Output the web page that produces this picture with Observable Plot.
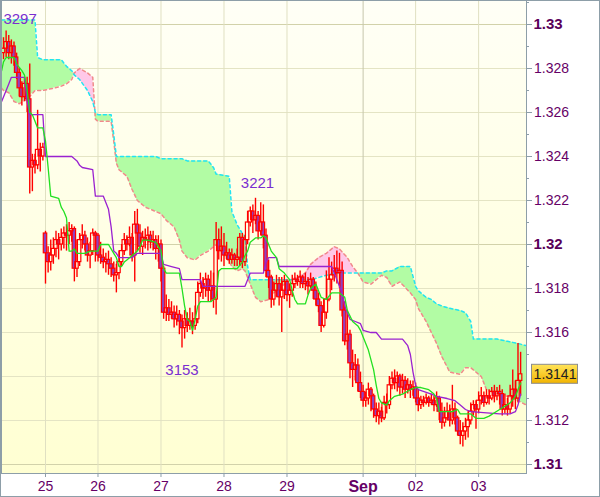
<!DOCTYPE html>
<html><head><meta charset="utf-8">
<script src="https://cdn.jsdelivr.net/npm/d3@7"></script>
<script src="https://cdn.jsdelivr.net/npm/@observablehq/plot@0.6"></script>
<style>
html,body{margin:0;padding:0;background:#fff;}
#chart svg{display:block;}
</style></head><body><div id="chart"></div>
<script>
// ---- hourly candles (bar index 0..197) ----
const openP = [
1.3287,1.3289,1.3292,1.3287,1.3290,1.3285,1.3278,1.3271,1.3267,1.3273,
1.3266,1.3235,1.3238,1.3236,1.3243,1.3240,1.3205,1.3196,1.3192,1.3195,
1.3198,1.3202,1.3200,1.3203,1.3205,1.3204,1.3206,1.3207,1.3189,1.3192,
1.3202,1.3204,1.3200,1.3195,1.3197,1.3205,1.3204,1.3195,1.3194,1.3192,
1.3193,1.3191,1.3189,1.3186,1.3187,1.3192,1.3197,1.3202,1.3200,1.3203,
1.3195,1.3209,1.3205,1.3199,1.3203,1.3202,1.3204,1.3201,1.3202,1.3198,
1.3200,1.3189,1.3169,1.3171,1.3168,1.3169,1.3166,1.3168,1.3165,1.3162,
1.3166,1.3163,1.3165,1.3163,1.3166,1.3178,1.3182,1.3180,1.3184,1.3179,
1.3181,1.3175,1.3202,1.3197,1.3199,1.3195,1.3196,1.3193,1.3195,1.3193,
1.3194,1.3203,1.3192,1.3202,1.3210,1.3215,1.3211,1.3213,1.3206,1.3210,
1.3204,1.3188,1.3185,1.3175,1.3179,1.3182,1.3176,1.3179,1.3183,1.3177,
1.3179,1.3182,1.3184,1.3183,1.3185,1.3182,1.3183,1.3181,1.3184,1.3179,
1.3175,1.3172,1.3163,1.3169,1.3175,1.3184,1.3186,1.3189,1.3187,1.3188,
1.3170,1.3156,1.3159,1.3146,1.3143,1.3145,1.3137,1.3133,1.3129,1.3130,
1.3134,1.3131,1.3125,1.3122,1.3124,1.3121,1.3128,1.3127,1.3136,1.3139,
1.3137,1.3140,1.3135,1.3138,1.3134,1.3136,1.3134,1.3135,1.3130,1.3127,
1.3129,1.3128,1.3130,1.3128,1.3129,1.3127,1.3130,1.3124,1.3119,1.3121,
1.3124,1.3120,1.3125,1.3121,1.3115,1.3113,1.3115,1.3117,1.3120,1.3124,
1.3127,1.3125,1.3129,1.3131,1.3128,1.3131,1.3130,1.3133,1.3131,1.3133,
1.3132,1.3125,1.3127,1.3125,1.3131,1.3134,1.3130,1.3138];
const highP = [
1.3294,1.3297,1.3295,1.3293,1.3292,1.3287,1.3280,1.3274,1.3276,1.3276,
1.3282,1.3241,1.3241,1.3261,1.3246,1.3246,1.3206,1.3199,1.3202,1.3203,
1.3206,1.3205,1.3207,1.3208,1.3209,1.3210,1.3209,1.3208,1.3202,1.3205,
1.3209,1.3206,1.3203,1.3201,1.3207,1.3206,1.3205,1.3201,1.3198,1.3196,
1.3197,1.3194,1.3192,1.3191,1.3197,1.3200,1.3205,1.3204,1.3208,1.3205,
1.3215,1.3216,1.3209,1.3206,1.3207,1.3208,1.3206,1.3206,1.3204,1.3204,
1.3202,1.3190,1.3177,1.3175,1.3174,1.3172,1.3172,1.3170,1.3168,1.3170,
1.3169,1.3171,1.3169,1.3172,1.3183,1.3187,1.3185,1.3187,1.3186,1.3188,
1.3187,1.3210,1.3207,1.3208,1.3205,1.3201,1.3198,1.3198,1.3196,1.3198,
1.3205,1.3205,1.3204,1.3215,1.3217,1.3218,1.3221,1.3215,1.3219,1.3218,
1.3207,1.3193,1.3186,1.3183,1.3186,1.3185,1.3185,1.3186,1.3184,1.3182,
1.3186,1.3187,1.3186,1.3188,1.3186,1.3187,1.3185,1.3187,1.3185,1.3183,
1.3178,1.3174,1.3175,1.3188,1.3194,1.3192,1.3195,1.3197,1.3196,1.3192,
1.3174,1.3170,1.3161,1.3152,1.3150,1.3148,1.3142,1.3136,1.3133,1.3137,
1.3135,1.3132,1.3128,1.3128,1.3126,1.3131,1.3132,1.3140,1.3142,1.3143,
1.3142,1.3141,1.3141,1.3140,1.3139,1.3138,1.3138,1.3137,1.3134,1.3131,
1.3131,1.3132,1.3131,1.3132,1.3131,1.3133,1.3131,1.3128,1.3126,1.3128,
1.3127,1.3136,1.3128,1.3122,1.3120,1.3119,1.3121,1.3124,1.3128,1.3129,
1.3129,1.3133,1.3135,1.3133,1.3134,1.3134,1.3135,1.3136,1.3135,1.3136,
1.3134,1.3132,1.3130,1.3136,1.3143,1.3138,1.3155,1.3151];
const lowP = [
1.3284,1.3285,1.3284,1.3282,1.3281,1.3275,1.3267,1.3263,1.3265,1.3260,
1.3223,1.3224,1.3232,1.3234,1.3233,1.3238,1.3182,1.3187,1.3188,1.3191,
1.3194,1.3193,1.3197,1.3198,1.3197,1.3200,1.3201,1.3183,1.3185,1.3190,
1.3198,1.3197,1.3192,1.3189,1.3195,1.3192,1.3192,1.3191,1.3189,1.3187,
1.3186,1.3185,1.3183,1.3178,1.3184,1.3190,1.3195,1.3197,1.3199,1.3192,
1.3183,1.3197,1.3196,1.3195,1.3198,1.3197,1.3198,1.3197,1.3193,1.3192,
1.3183,1.3166,1.3165,1.3165,1.3166,1.3162,1.3163,1.3159,1.3153,1.3157,
1.3160,1.3161,1.3159,1.3161,1.3164,1.3176,1.3175,1.3176,1.3174,1.3174,
1.3171,1.3168,1.3193,1.3192,1.3190,1.3193,1.3191,1.3191,1.3190,1.3190,
1.3190,1.3189,1.3190,1.3200,1.3208,1.3205,1.3209,1.3202,1.3204,1.3198,
1.3185,1.3180,1.3171,1.3172,1.3176,1.3172,1.3160,1.3175,1.3174,1.3171,
1.3176,1.3180,1.3181,1.3180,1.3180,1.3179,1.3177,1.3180,1.3175,1.3172,
1.3169,1.3160,1.3162,1.3166,1.3174,1.3179,1.3183,1.3182,1.3180,1.3167,
1.3154,1.3152,1.3139,1.3135,1.3138,1.3133,1.3130,1.3126,1.3126,1.3127,
1.3124,1.3121,1.3119,1.3118,1.3119,1.3120,1.3123,1.3125,1.3134,1.3134,
1.3133,1.3131,1.3132,1.3130,1.3132,1.3130,1.3131,1.3128,1.3124,1.3125,
1.3126,1.3127,1.3126,1.3127,1.3124,1.3126,1.3120,1.3116,1.3117,1.3120,
1.3117,1.3118,1.3118,1.3113,1.3109,1.3108,1.3111,1.3112,1.3118,1.3122,
1.3116,1.3123,1.3127,1.3126,1.3127,1.3127,1.3129,1.3128,1.3129,1.3127,
1.3122,1.3123,1.3122,1.3123,1.3126,1.3125,1.3128,1.3131];
const closeP = [
1.3289,1.3292,1.3287,1.3290,1.3285,1.3278,1.3271,1.3267,1.3273,1.3266,
1.3235,1.3238,1.3236,1.3243,1.3240,1.3244,1.3196,1.3192,1.3195,1.3198,
1.3202,1.3200,1.3203,1.3205,1.3204,1.3206,1.3207,1.3189,1.3192,1.3202,
1.3204,1.3200,1.3195,1.3197,1.3205,1.3204,1.3195,1.3194,1.3192,1.3193,
1.3191,1.3189,1.3186,1.3187,1.3192,1.3197,1.3202,1.3200,1.3203,1.3195,
1.3209,1.3205,1.3199,1.3203,1.3202,1.3204,1.3201,1.3202,1.3198,1.3200,
1.3189,1.3169,1.3171,1.3168,1.3169,1.3166,1.3168,1.3165,1.3162,1.3166,
1.3163,1.3165,1.3163,1.3166,1.3178,1.3182,1.3180,1.3184,1.3179,1.3181,
1.3175,1.3202,1.3197,1.3199,1.3195,1.3196,1.3193,1.3195,1.3193,1.3194,
1.3203,1.3192,1.3202,1.3210,1.3215,1.3211,1.3213,1.3206,1.3210,1.3204,
1.3188,1.3185,1.3175,1.3179,1.3182,1.3176,1.3179,1.3183,1.3177,1.3179,
1.3182,1.3184,1.3183,1.3185,1.3182,1.3183,1.3181,1.3184,1.3179,1.3175,
1.3172,1.3163,1.3169,1.3175,1.3184,1.3186,1.3189,1.3187,1.3188,1.3170,
1.3156,1.3159,1.3146,1.3143,1.3145,1.3137,1.3133,1.3129,1.3130,1.3134,
1.3131,1.3125,1.3122,1.3124,1.3121,1.3128,1.3127,1.3136,1.3139,1.3137,
1.3140,1.3135,1.3138,1.3134,1.3136,1.3134,1.3135,1.3130,1.3127,1.3129,
1.3128,1.3130,1.3128,1.3129,1.3127,1.3130,1.3124,1.3119,1.3121,1.3124,
1.3120,1.3125,1.3121,1.3115,1.3113,1.3115,1.3117,1.3120,1.3124,1.3127,
1.3125,1.3129,1.3131,1.3128,1.3131,1.3130,1.3133,1.3131,1.3133,1.3132,
1.3125,1.3127,1.3125,1.3131,1.3134,1.3130,1.3138,1.3141];

// ---- Ichimoku lines (breakpoints: bar index, price) ----
const tenkanIdx = [-0.7,0,1,4,5,7,8,9,10,11,12,13,15,16,17,18,21,22,23,24,25,26,27,28,31,33,36,37,40,41,42,43,44,45,46,47,49,51,52,53,55,58,59,60,61,62,67,68,69,70,71,72,73,74,75,79,81,82,83,89,91,92,93,94,96,98,99,100,101,102,104,105,107,109,110,111,112,115,116,117,119,120,121,123,125,128,130,131,133,135,136,137,139,141,142,143,144,146,147,149,152,155,157,159,162,164,165,166,171,173,174,178,180,183,185,189,193,195,196,197];
const tenkanVal = [1.3279,1.3283,1.3285,1.3285,1.3282,1.3279,1.3277,1.3270,1.3260,1.3259,1.3256,1.3253,1.3253,1.3247,1.3235,1.3222,1.3221,1.3217,1.3215,1.3212,1.3197,1.3197,1.3198,1.3196,1.3196,1.3197,1.3197,1.3200,1.3200,1.3198,1.3196,1.3194,1.3190,1.3190,1.3192,1.3193,1.3195,1.3197,1.3199,1.3202,1.3202,1.3201,1.3199,1.3197,1.3189,1.3187,1.3187,1.3180,1.3172,1.3166,1.3165,1.3161,1.3166,1.3172,1.3174,1.3174,1.3176,1.3188,1.3189,1.3189,1.3192,1.3195,1.3197,1.3201,1.3203,1.3203,1.3204,1.3203,1.3200,1.3197,1.3194,1.3189,1.3187,1.3184,1.3179,1.3175,1.3173,1.3173,1.3177,1.3180,1.3182,1.3179,1.3176,1.3175,1.3178,1.3178,1.3176,1.3170,1.3165,1.3163,1.3161,1.3158,1.3152,1.3143,1.3136,1.3130,1.3128,1.3127,1.3129,1.3131,1.3132,1.3134,1.3135,1.3135,1.3134,1.3132,1.3130,1.3124,1.3124,1.3125,1.3123,1.3123,1.3121,1.3121,1.3122,1.3125,1.3128,1.3131,1.3134,1.3137];
const kijunIdx = [-0.7,1,2,3,8,9,10,15,16,26,28,29,30,34,35,38,40,41,42,43,44,49,51,60,61,64,67,68,75,76,92,93,94,99,100,101,104,105,125,126,129,130,131,132,134,136,137,140,142,144,152,154,155,156,157,158,163,165,169,172,174,176,178,189,193,195,196,197];
const kijunVal = [1.3265,1.3270,1.3273,1.3276,1.3276,1.3265,1.3259,1.3259,1.3240,1.3240,1.3238,1.3236,1.3235,1.3234,1.3222,1.3222,1.3216,1.3208,1.3197,1.3196,1.3194,1.3194,1.3196,1.3196,1.3191,1.3190,1.3189,1.3184,1.3184,1.3181,1.3181,1.3184,1.3187,1.3187,1.3192,1.3194,1.3194,1.3190,1.3190,1.3187,1.3178,1.3172,1.3169,1.3166,1.3165,1.3164,1.3161,1.3160,1.3160,1.3157,1.3157,1.3154,1.3150,1.3142,1.3136,1.3134,1.3132,1.3131,1.3130,1.3129,1.3127,1.3125,1.3124,1.3123,1.3123,1.3124,1.3127,1.3132];
const cloudIdx = [-0.7,0,2,4,6,9,12,13,15,19,22,24,26,27,29,32,34,35,36,38,41,42,43,44,47,49,51,54,58,60,62,65,67,68,70,73,75,78,80,81,86,87,89,91,92,93,94,96,98,101,103,106,109,112,115,117,120,123,126,128,131,133,135,137,140,144,146,148,151,155,157,158,161,163,165,167,170,174,176,178,179,182,184,188,192,196,199.2];
const spanA = [1.3302,1.3302,1.3302,1.3302,1.3302,1.3302,1.3302,1.3285,1.3284,1.3284,1.3284,1.3281,1.3279,1.3277,1.3275,1.3270,1.3265,1.3260,1.3259,1.3259,1.3259,1.3250,1.3240,1.3240,1.3240,1.3240,1.3240,1.3240,1.3240,1.3239,1.3239,1.3239,1.3239,1.3239,1.3238,1.3238,1.3238,1.3238,1.3235,1.3232,1.3231,1.3215,1.3209,1.3205,1.3204,1.3190,1.3184,1.3184,1.3184,1.3184,1.3184,1.3184,1.3184,1.3184,1.3184,1.3184,1.3185,1.3186,1.3187,1.3187,1.3187,1.3187,1.3187,1.3187,1.3187,1.3187,1.3188,1.3188,1.3190,1.3190,1.3181,1.3179,1.3176,1.3175,1.3173,1.3172,1.3171,1.3170,1.3169,1.3165,1.3157,1.3157,1.3157,1.3157,1.3156,1.3155,1.3154];
const spanB = [1.3271,1.3270,1.3269,1.3265,1.3264,1.3266,1.3270,1.3270,1.3270,1.3271,1.3272,1.3273,1.3275,1.3278,1.3280,1.3278,1.3276,1.3257,1.3256,1.3256,1.3256,1.3247,1.3237,1.3234,1.3231,1.3225,1.3220,1.3217,1.3215,1.3214,1.3211,1.3208,1.3202,1.3197,1.3194,1.3193,1.3195,1.3197,1.3199,1.3200,1.3192,1.3190,1.3188,1.3189,1.3188,1.3185,1.3182,1.3176,1.3174,1.3175,1.3178,1.3181,1.3184,1.3185,1.3187,1.3191,1.3194,1.3196,1.3199,1.3198,1.3194,1.3190,1.3187,1.3183,1.3182,1.3186,1.3185,1.3181,1.3183,1.3178,1.3175,1.3171,1.3165,1.3160,1.3155,1.3149,1.3142,1.3141,1.3144,1.3144,1.3143,1.3140,1.3134,1.3132,1.3131,1.3129,1.3127];

// ---- axes ----
const dayTickIdx = [16,36,60,84,108,137,157,181];
const dayTickLabel = ["25","26","27","28","29","Sep","02","03"];
const gridTicks = [1.328,1.326,1.324,1.322,1.318,1.316,1.314,1.312];
const priceTicks = [1.328,1.326,1.324,1.322,1.318,1.316,1.312];   // 1.314 is hidden under the last-price box
const priceTickLabels = ["1.328","1.326","1.324","1.322","1.318","1.316","1.312"];
const boldTicks = [1.33,1.32,1.31];
const boldTickLabels = ["1.33","1.32","1.31"];
const minorTicks = [1.331,1.329,1.327,1.325,1.323,1.321,1.319,1.317,1.315,1.313,1.311];

// ---- extreme labels ----
const extremeText = ["3297","3221","3153"];
const extremeIdx = [1,96,68];
const extremePrice = [1.3297,1.3221,1.3153];

const n = closeP.length;
const idx = d3.range(n);
const upIdx = idx.filter(i => closeP[i] >= openP[i]);
const dnIdx = idx.filter(i => closeP[i] < openP[i]);
const cloud = cloudIdx.map((x, k) => ({x, a: spanA[k], b: spanB[k]}));
const tenkan = tenkanIdx.map((x, k) => ({x, v: tenkanVal[k]}));
const kijun = kijunIdx.map((x, k) => ({x, v: kijunVal[k]}));
const lastClose = closeP[n - 1];
const dayLab = new Map(dayTickIdx.map((d, k) => [d, dayTickLabel[k]]));
const pLab = new Map(priceTicks.map((d, k) => [d, priceTickLabels[k]]));
const bLab = new Map(boldTicks.map((d, k) => [d, boldTickLabels[k]]));
const sepIdx = dayTickIdx[dayTickLabel.indexOf("Sep")];
const normalDays = dayTickIdx.filter(d => d !== sepIdx);

const RED = "#ff0000";
const AX = "#8d9ea8";
const TXT = "#660066";
const FONT = "'Liberation Sans', Arial, sans-serif";

const chart = Plot.plot({
  width: 600, height: 497,
  marginTop: 0, marginLeft: 1, marginRight: 74, marginBottom: 24,
  x: {domain: [-0.762, 199.24], label: null},
  y: {domain: [1.309591, 1.331091], label: null},
  style: {background: "#ffffff", fontFamily: FONT, overflow: "visible"},
  marks: [
    Plot.frame({fill: "url(#bgGrad)", stroke: null}),
    Plot.ruleY(gridTicks, {stroke: "#e4e4c4"}),
    Plot.ruleY(boldTicks, {stroke: "#d2d2aa"}),
    Plot.ruleX(normalDays, {stroke: "#e0e0c2"}),
    Plot.ruleX([sepIdx], {stroke: "#c6c6ac"}),
    // cloud
    Plot.areaY(cloud, {x: "x", y1: "b", y2: d => Math.max(d.a, d.b), fill: "#b2fca4", clip: true}),
    Plot.areaY(cloud, {x: "x", y1: "a", y2: d => Math.max(d.a, d.b), fill: "#ffc8e8", clip: true}),
    Plot.line(cloud, {x: "x", y: "b", stroke: "#f08a8a", strokeWidth: 1.5, strokeDasharray: "3,3", clip: true}),
    Plot.line(cloud, {x: "x", y: "a", stroke: "#22e4f2", strokeWidth: 1.5, strokeDasharray: "3,3", clip: true}),
    // candles
    Plot.ruleX(idx, {x: i => i, y1: i => highP[i], y2: i => Math.max(openP[i], closeP[i]), stroke: RED, strokeWidth: 1.4}),
    Plot.ruleX(idx, {x: i => i, y1: i => Math.min(openP[i], closeP[i]), y2: i => lowP[i], stroke: RED, strokeWidth: 1.4}),
    Plot.rect(dnIdx, {x1: i => i - 0.65, x2: i => i + 0.65, y1: i => openP[i], y2: i => closeP[i], fill: "#9040c0", stroke: RED, strokeWidth: 1.2}),
    Plot.rect(upIdx, {x1: i => i - 0.65, x2: i => i + 0.65, y1: i => openP[i], y2: i => closeP[i], fill: "none", stroke: RED, strokeWidth: 1.2}),
    // tenkan / kijun
    Plot.line(kijun, {x: "x", y: "v", stroke: "#9a22d0", strokeWidth: 1.3, clip: true}),
    Plot.line(tenkan, {x: "x", y: "v", stroke: "#22e022", strokeWidth: 1.3, clip: true}),
    // extreme labels
    Plot.text([0], {x: k => extremeIdx[k], y: k => extremePrice[k], text: k => extremeText[k], dx: 14, dy: -12, fontSize: 15, fill: "#7a2fd0"}),
    Plot.text([1], {x: k => extremeIdx[k], y: k => extremePrice[k], text: k => extremeText[k], dx: 2, dy: -15, fontSize: 15, fill: "#7a2fd0"}),
    Plot.text([2], {x: k => extremeIdx[k], y: k => extremePrice[k], text: k => extremeText[k], dx: 0, dy: 22, fontSize: 15, fill: "#7a2fd0"}),
    Plot.frame({stroke: AX}),
    // axes
    Plot.axisX(normalDays, {anchor: "bottom", label: null, tickFormat: d => dayLab.get(d), tickSize: 4, tickPadding: 4, fontSize: 14, fill: TXT, stroke: AX}),
    Plot.axisX([sepIdx], {anchor: "bottom", label: null, tickFormat: d => dayLab.get(d), tickSize: 4, tickPadding: 3, fontSize: 16, fontWeight: "bold", fill: TXT, stroke: AX}),
    Plot.axisY(priceTicks, {anchor: "right", label: null, tickFormat: d => pLab.get(d), tickSize: 5, tickPadding: 2.5, fontSize: 14, fill: TXT, stroke: AX}),
    Plot.axisY(boldTicks, {anchor: "right", label: null, tickFormat: d => bLab.get(d), tickSize: 5, tickPadding: 2, fontSize: 15, fontWeight: "bold", fill: "#5a005a", stroke: AX}),
    // last price
    Plot.text([lastClose], {y: d => d, frameAnchor: "right", textAnchor: "middle", dx: 28.5, text: d => d.toFixed(4), fontSize: 14, fill: "#222"})
  ]
});

const svg = d3.select(chart);
const defs = svg.insert("defs", ":first-child");
const g = defs.append("linearGradient").attr("id", "bgGrad").attr("x1", 0).attr("y1", 0).attr("x2", 0).attr("y2", 1);
g.append("stop").attr("offset", "0%").attr("stop-color", "#fffff6");
g.append("stop").attr("offset", "100%").attr("stop-color", "#ffffd2");
const pg = defs.append("linearGradient").attr("id", "pGrad").attr("x1", 0).attr("y1", 0).attr("x2", 0).attr("y2", 1);
pg.append("stop").attr("offset", "0%").attr("stop-color", "#ffe45a");
pg.append("stop").attr("offset", "100%").attr("stop-color", "#f2b400");

// minor ticks and the (hidden) 1.314 tick: short marks right of the axis, placed through the y scale
const ys = chart.scale("y");
const xr = chart.scale("x").range[1];
const minorG = svg.append("g").attr("stroke", AX);
minorTicks.forEach(v => {
  const yy = Math.round(ys.apply(v)) + 0.5;
  minorG.append("line").attr("x1", xr).attr("x2", xr + 3).attr("y1", yy).attr("y2", yy);
});

const yp = ys.apply(lastClose);
const box = document.createElementNS("http://www.w3.org/2000/svg", "rect");
box.setAttribute("x", xr + 5.5);
box.setAttribute("y", yp - 9.5);
box.setAttribute("width", 46);
box.setAttribute("height", 19);
box.setAttribute("fill", "url(#pGrad)");
box.setAttribute("stroke", "#8c8c8c");
const texts = chart.querySelectorAll("g[aria-label='text']");
const priceText = texts[texts.length - 1];
chart.insertBefore(box, priceText);

svg.append("rect").attr("x", 0.5).attr("y", 0.5).attr("width", 599).attr("height", 496)
  .attr("fill", "none").attr("stroke", AX);

document.getElementById("chart").appendChild(chart);
</script>
</body></html>
